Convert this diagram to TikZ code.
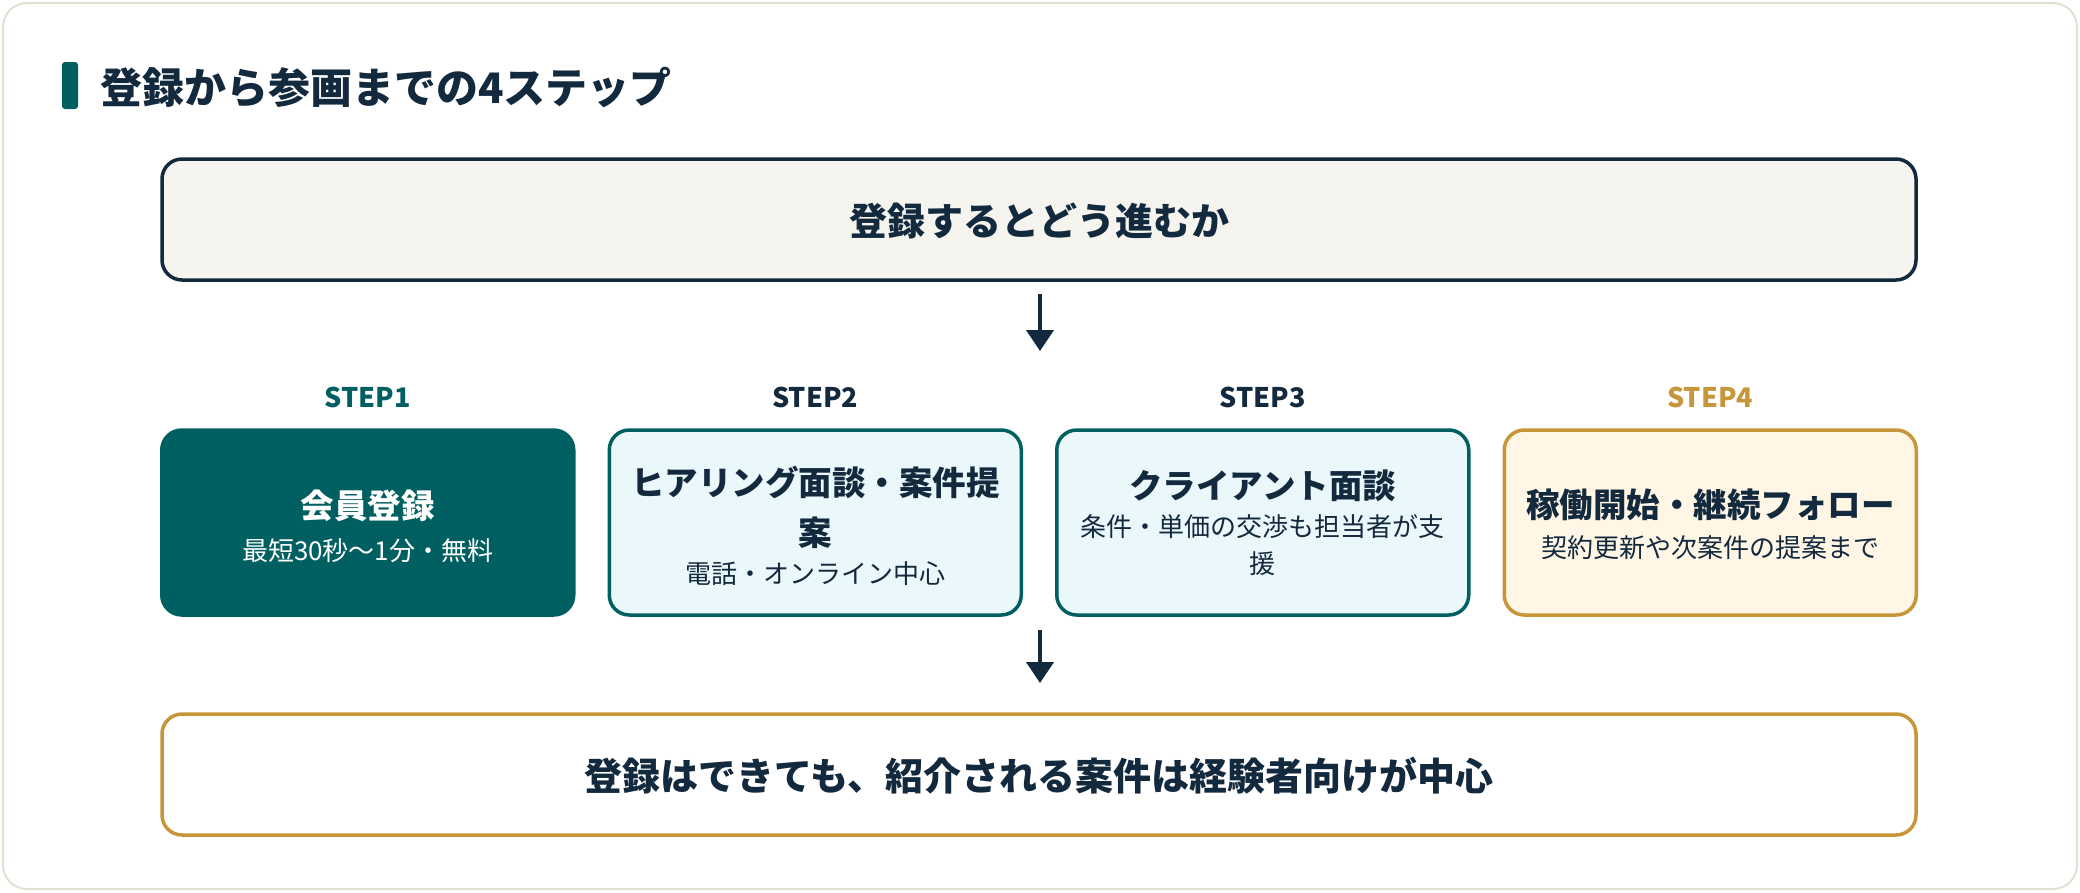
\documentclass[tikz,border=0pt]{standalone}
\usepackage{fontspec}
\setmainfont{Noto Sans CJK JP}
\usetikzlibrary{arrows.meta}
\definecolor{cNavy}{HTML}{13293D}
\definecolor{cTeal}{HTML}{005F60}
\definecolor{cGold}{HTML}{C8963A}
\definecolor{cCyan}{HTML}{EAF8FC}
\definecolor{cCream}{HTML}{FFF6E6}
\definecolor{cPaper}{HTML}{F5F4EF}
\definecolor{cCard}{HTML}{E3E1D4}
\tikzset{
  wide/.style={draw, line width=3.5pt, rounded corners=20pt, minimum width=1754pt, minimum height=121pt, inner sep=0pt},
  stepbox/.style={draw, line width=3.5pt, rounded corners=20pt, minimum width=412pt, minimum height=185pt, inner sep=0pt},
  ttl/.style={inner sep=0pt, text=cNavy, font=\fontsize{33.5}{40}\selectfont\bfseries},
  sub/.style={inner sep=0pt, text=cNavy, font=\fontsize{26}{32}\selectfont},
  lbl/.style={inner sep=0pt, font=\fontsize{27}{32}\selectfont\bfseries},
  big/.style={inner sep=0pt, text=cNavy, font=\fontsize{38}{46}\selectfont\bfseries},
  flow/.style={draw=cNavy, line width=4pt, -{Triangle[length=21pt,width=27pt]}},
}
\begin{document}
\begin{tikzpicture}[x=1pt,y=-1pt]
\useasboundingbox (0,0) rectangle (2080,892);
\fill[white] (0,0) rectangle (2080,892);
\draw[draw=cCard, fill=white, line width=2pt, rounded corners=24pt] (3,3) rectangle (2077,889);

% title
\node[fill=cTeal, minimum width=16pt, minimum height=47pt, rounded corners=3pt, inner sep=0pt] (bar) at (70,85.5) {};
\node[anchor=west, inner sep=0pt, text=cNavy, font=\fontsize{42}{50}\selectfont\bfseries] (title) at (100,87.5) {登録から参画までの4ステップ};

% top box
\node[wide, fill=cPaper, draw=cNavy] (top) at (1039,219.5) {};
\node[big] (toptext) at (1039,221) {登録するとどう進むか};

\coordinate (a1s) at (1040,294);
\coordinate (a1e) at (1040,351);
\draw[flow] (a1s) -- (a1e);

% step labels
\node[lbl, text=cTeal] (l1) at (367.75,397) {STEP1};
\node[lbl, text=cNavy] (l2) at (815.25,397) {STEP2};
\node[lbl, text=cNavy] (l3) at (1262.75,397) {STEP3};
\node[lbl, text=cGold] (l4) at (1710.25,397) {STEP4};

% step boxes
\node[stepbox, fill=cTeal, draw=cTeal] (s1) at (367.75,522.5) {};
\node[stepbox, fill=cCyan, draw=cTeal] (s2) at (815.25,522.5) {};
\node[stepbox, fill=cCyan, draw=cTeal] (s3) at (1262.75,522.5) {};
\node[stepbox, fill=cCream, draw=cGold] (s4) at (1710.25,522.5) {};

\node[ttl, text=white] (t1) at (367.75,506) {会員登録};
\node[sub, text=white] (u1) at (367.75,551) {最短30秒〜1分・無料};

\node[ttl] (t2a) at (815.25,482) {ヒアリング面談・案件提};
\node[ttl] (t2b) at (815.25,532.5) {案};
\node[sub] (u2) at (815.25,574) {電話・オンライン中心};

\node[ttl] (t3) at (1262.75,485.5) {クライアント面談};
\node[sub] (u3a) at (1262.75,527) {条件・単価の交渉も担当者が支};
\node[sub] (u3b) at (1262.75,564) {援};

\node[ttl] (t4) at (1710.25,505) {稼働開始・継続フォロー};
\node[sub] (u4) at (1710.25,548) {契約更新や次案件の提案まで};

\coordinate (a2s) at (1040,630);
\coordinate (a2e) at (1040,683);
\draw[flow] (a2s) -- (a2e);

% bottom box
\node[wide, fill=white, draw=cGold] (bot) at (1039,774.5) {};
\node[big] (bottext) at (1039,776) {登録はできても、紹介される案件は経験者向けが中心};
\end{tikzpicture}
\end{document}
